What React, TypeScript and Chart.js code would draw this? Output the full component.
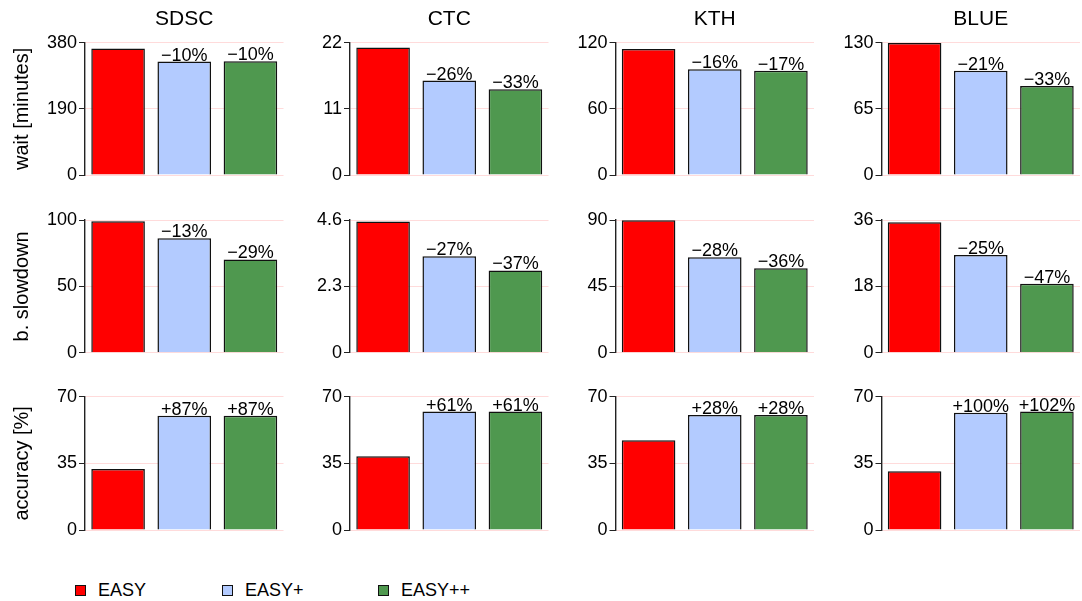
import React, { useEffect, useRef } from "react";
import { Chart, registerables } from "chart.js";

Chart.register(...registerables);

// ---------------- data ----------------
const sites = ["SDSC", "CTC", "KTH", "BLUE"];
const policies = ["EASY", "EASY+", "EASY++"];
const metricTitles = ["wait [minutes]", "b. slowdown", "accuracy [%]"];
const policyColors = ["#ff0000", "#b3cbff", "#4f984f"];

const waitValues = [
  [363, 326, 327],
  [21.2, 15.7, 14.25],
  [114.3, 95.9, 94.6],
  [129.7, 102.5, 87.5],
];
const waitTicks = [
  [0, 190, 380],
  [0, 11, 22],
  [0, 60, 120],
  [0, 65, 130],
];
const waitLabels = [
  ["", "−10%", "−10%"],
  ["", "−26%", "−33%"],
  ["", "−16%", "−17%"],
  ["", "−21%", "−33%"],
];

const slowdownValues = [
  [99, 86.2, 70.3],
  [4.55, 3.34, 2.85],
  [89.8, 64.7, 57.3],
  [35.4, 26.5, 18.7],
];
const slowdownTicks = [
  [0, 50, 100],
  [0, 2.3, 4.6],
  [0, 45, 90],
  [0, 18, 36],
];
const slowdownLabels = [
  ["", "−13%", "−29%"],
  ["", "−27%", "−37%"],
  ["", "−28%", "−36%"],
  ["", "−25%", "−47%"],
];

const accuracyValues = [
  [32.0, 60.0, 60.0],
  [38.7, 62.2, 62.2],
  [47.1, 60.4, 60.4],
  [30.8, 61.6, 62.2],
];
const accuracyTicks = [
  [0, 35, 70],
  [0, 35, 70],
  [0, 35, 70],
  [0, 35, 70],
];
const accuracyLabels = [
  ["", "+87%", "+87%"],
  ["", "+61%", "+61%"],
  ["", "+28%", "+28%"],
  ["", "+100%", "+102%"],
];

const allValues = [waitValues, slowdownValues, accuracyValues];
const allTicks = [waitTicks, slowdownTicks, accuracyTicks];
const allLabels = [waitLabels, slowdownLabels, accuracyLabels];

// ---------------- layout ----------------
const FONT = '"Liberation Sans", Arial, Helvetica, sans-serif';
const AXIS_X = [85, 350, 615.5, 881.5];
const PLOT_TOP = [42.7, 220, 396.7];
const PLOT_BOTTOM = [175, 352.7, 530];
const CANVAS_TOP = [0, 177, 354];
const CANVAS_H = 190;
const PLOT_W = 198.5;
const RIGHT_PAD = 3;
const LEGEND_X = [75, 222, 378];

Chart.defaults.font.family = FONT;
Chart.defaults.color = "#111";

function makeLabelPlugin(labels: string[]) {
  return {
    id: "pctLabels",
    afterDatasetsDraw(chart: any) {
      const meta = chart.getDatasetMeta(0);
      const ctx = chart.ctx;
      ctx.save();
      ctx.font = `18px ${FONT}`;
      ctx.fillStyle = "#000";
      ctx.textAlign = "center";
      ctx.textBaseline = "alphabetic";
      meta.data.forEach((bar: any, i: number) => {
        const t = labels[i];
        if (t) ctx.fillText(t, bar.x, bar.y - 1);
      });
      ctx.restore();
    },
  };
}

function Panel({ row, col }: { row: number; col: number }) {
  const ref = useRef<HTMLCanvasElement | null>(null);
  const left = col === 0 ? 0 : Math.floor(AXIS_X[col] - 60);
  const axisW = AXIS_X[col] - left;
  const top = CANVAS_TOP[row];
  const width = Math.ceil(axisW + PLOT_W + RIGHT_PAD);

  useEffect(() => {
    if (!ref.current) return;
    const values = allValues[row][col];
    const ticks = allTicks[row][col];
    const labels = allLabels[row][col];
    const chart = new Chart(ref.current, {
      type: "bar",
      data: {
        labels: policies,
        datasets: [
          {
            data: values,
            backgroundColor: policyColors,
            borderColor: "#111",
            borderWidth: 1.5,
            categoryPercentage: 1,
            barPercentage: 0.81,
          },
        ],
      },
      options: {
        responsive: false,
        animation: false,
        devicePixelRatio: 1,
        layout: {
          padding: {
            top: row === 0 ? 0 : PLOT_TOP[row] - top,
            bottom: CANVAS_H - (PLOT_BOTTOM[row] - top),
            left: 0,
            right: width - axisW - PLOT_W,
          },
        },
        plugins: {
          legend: { display: false },
          tooltip: { enabled: false },
          title: {
            display: row === 0,
            text: sites[col],
            fullSize: false,
            color: "#000",
            font: { size: 21, weight: "normal", family: FONT },
            padding: { top: 7, bottom: PLOT_TOP[0] - 7 - 25.2 },
          },
        },
        scales: {
          x: { display: false },
          y: {
            min: 0,
            max: ticks[ticks.length - 1],
            afterBuildTicks: (s: any) => {
              s.ticks = ticks.map((v) => ({ value: v }));
            },
            afterFit: (s: any) => {
              s.width = axisW;
            },
            ticks: {
              font: { size: 18, family: FONT },
              color: "#000",
              padding: 2,
              autoSkip: false,
              callback: (v: any) => String(v),
            },
            grid: {
              color: "rgba(255,0,0,0.14)",
              tickColor: "#222",
              tickLength: 6,
              lineWidth: 1,
            },
            border: { display: true, color: "#222", width: 1.4 },
            title: {
              display: col === 0,
              text: metricTitles[row],
              color: "#000",
              font: { size: 20, family: FONT },
              padding: { top: 10, bottom: 0 },
            },
          },
        },
      },
      plugins: [makeLabelPlugin(labels)],
    } as any);
    return () => chart.destroy();
  }, [row, col]);

  return (
    <canvas
      ref={ref}
      width={width}
      height={CANVAS_H}
      style={{ position: "absolute", left, top, width, height: CANVAS_H }}
    />
  );
}

export default function App() {
  const panels: JSX.Element[] = [];
  for (let r = 0; r < 3; r++) {
    for (let c = 0; c < 4; c++) {
      panels.push(<Panel key={`${r}-${c}`} row={r} col={c} />);
    }
  }
  return (
    <div
      style={{
        position: "absolute",
        left: 0,
        top: 0,
        width: 1082,
        height: 601,
        background: "#fff",
        overflow: "hidden",
      }}
    >
      {panels}
      {policies.map((p, i) => (
        <React.Fragment key={p}>
          <div
            style={{
              position: "absolute",
              left: LEGEND_X[i],
              top: 585,
              width: 11,
              height: 11,
              background: policyColors[i],
              border: "1px solid #111",
              boxSizing: "border-box",
            }}
          />
          <div
            style={{
              position: "absolute",
              left: LEGEND_X[i] + 23,
              top: 581,
              font: `18px ${FONT}`,
              lineHeight: "18px",
              color: "#000",
              whiteSpace: "nowrap",
            }}
          >
            {p}
          </div>
        </React.Fragment>
      ))}
    </div>
  );
}
